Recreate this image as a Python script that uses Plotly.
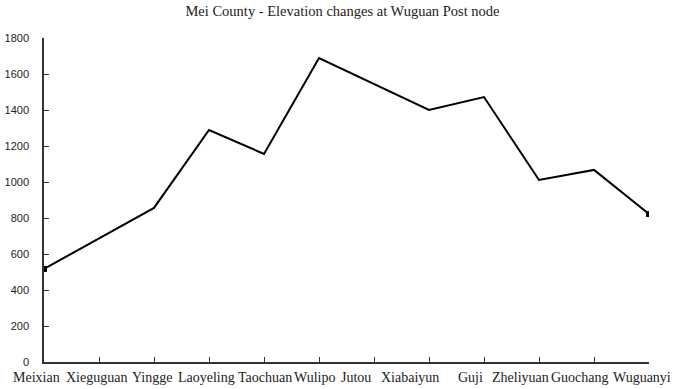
import plotly.graph_objects as go

categories = ["Meixian", "Xieguguan", "Yingge", "Laoyeling", "Taochuan", "Wulipo",
              "Jutou", "Xiabaiyun", "Guji", "Zheliyuan", "Guochang", "Wuguanyi"]
elevation = [517, 686, 856, 1289, 1156, 1689, 1545, 1400, 1472, 1011, 1067, 822]
y_ticks = [0, 200, 400, 600, 800, 1000, 1200, 1400, 1600, 1800]

x_idx = list(range(len(categories)))
# label placement along the axis (layout only; labels sit slightly off the ticks as in the source)
label_shift = [-0.13, -0.05, -0.04, -0.04, 0.02, -0.08, -0.33, -0.35, -0.25, -0.33, -0.25, -0.13]
x_max = len(categories) - 1

fig = go.Figure()
fig.add_trace(go.Scatter(x=x_idx, y=elevation, mode="lines",
                         line=dict(color="black", width=2), showlegend=False))
fig.add_trace(go.Scatter(x=[x_idx[0], x_idx[-1]], y=[elevation[0], elevation[-1]],
                         mode="markers", marker=dict(symbol="square", size=6, color="black"),
                         showlegend=False))

for i, (name, s) in enumerate(zip(categories, label_shift)):
    fig.add_annotation(text=name, xref="paper", yref="paper",
                       x=(i + s) / x_max, y=0, xanchor="center", yanchor="middle",
                       yshift=-15, showarrow=False,
                       font=dict(family="Liberation Serif", size=14, color="#222"))

fig.update_layout(
    width=685, height=389,
    margin=dict(l=44, r=36, t=38, b=27),
    paper_bgcolor="white", plot_bgcolor="white",
    title=dict(text="Mei County - Elevation changes at Wuguan Post node",
               x=0.5, xanchor="center", y=0.972, yanchor="middle",
               font=dict(family="Liberation Serif", size=14.5, color="#222")),
    xaxis=dict(range=[0, x_max], tickmode="array", tickvals=x_idx[1:],
               showticklabels=False,
               showgrid=False, zeroline=False, showline=True, linecolor="#333", linewidth=1.5,
               ticks="inside", ticklen=5, tickcolor="#333", tickwidth=1, automargin=False),
    yaxis=dict(range=[0, 1800], tickmode="array", tickvals=y_ticks, automargin=False,
               showgrid=False, zeroline=False, showline=True, linecolor="#333", linewidth=1.5,
               ticks="inside", ticklen=5, tickcolor="#333",
               tickfont=dict(family="Liberation Sans", size=11, color="#222"),
               ticklabelstandoff=11),
)

fig.write_html("out.html", config={"displayModeBar": False},
               post_script="document.body.style.margin='0';document.body.style.overflow='hidden';")
